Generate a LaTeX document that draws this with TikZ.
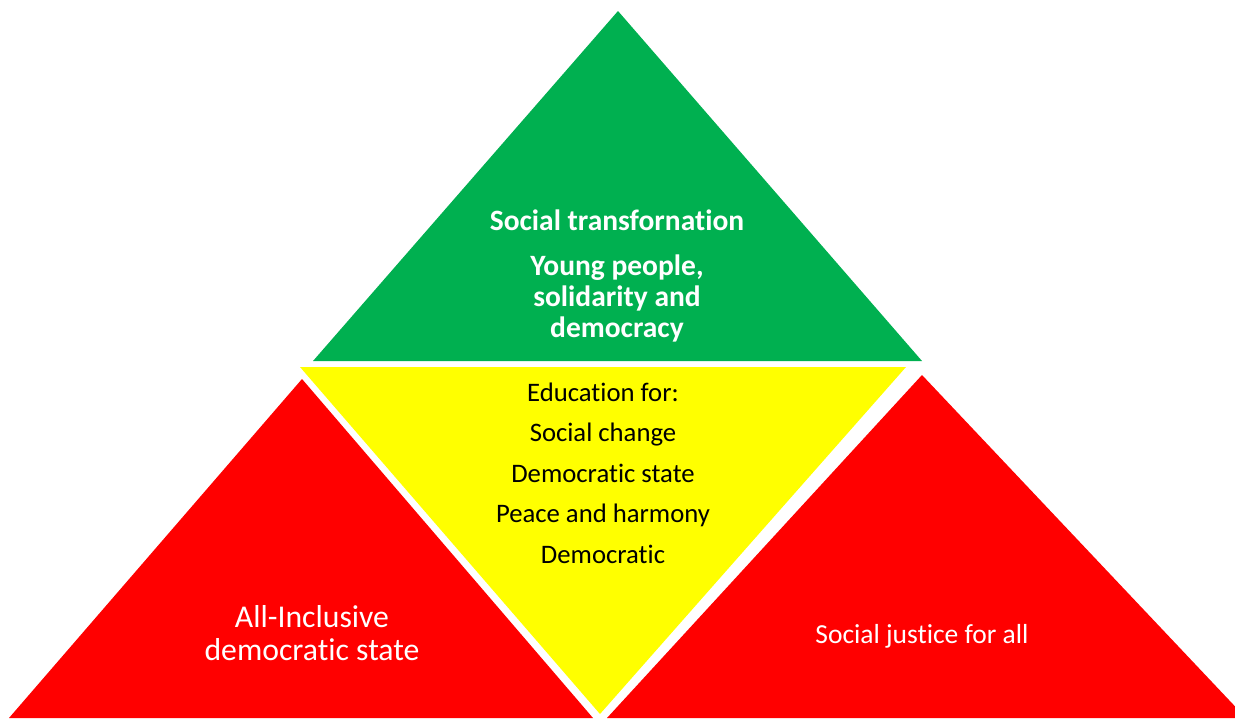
\documentclass[tikz,border=0pt]{standalone}
\usepackage{fontspec}
\setmainfont{Carlito}[Ligatures={NoCommon}]
\definecolor{topgreen}{HTML}{00B050}
\definecolor{midyellow}{HTML}{FFFF00}
\definecolor{sidered}{HTML}{FF0000}
\begin{document}
\begin{tikzpicture}[x=1pt,y=-1pt,
  label/.style={inner sep=0pt,align=center},
  whitebold/.style={label,text=white,font=\fontsize{29.5}{31}\selectfont\bfseries},
  blacktext/.style={label,text=black,font=\fontsize{26.7}{40.5}\selectfont},
  whitetext/.style={label,text=white,font=\fontsize{31.7}{33}\selectfont}]
\useasboundingbox (0,0) rectangle (1235,718);
\clip (0,0) rectangle (1235,718);
% four triangles
\fill[topgreen] (618,11) -- (922,361) -- (313,361) -- cycle;
\fill[midyellow] (300,367) -- (906,367) -- (600,714) -- cycle;
\fill[sidered] (302,379) -- (593,718) -- (9,718) -- cycle;
\fill[sidered] (922,375) -- (1246,718) -- (607,718) -- cycle;
% texts
\node[whitebold] (title) at (617,220) {Social transfornation};
\node[whitebold] (youth) at (617,298) {Young people,\\solidarity and\\democracy};
\node[blacktext] (edu) at (603,473) {Education for:\\Social change\\Democratic state\\Peace and harmony\\Democratic};
\node[whitetext] (inclusive) at (312,633) {All-Inclusive\\democratic state};
\node[label,text=white,font=\fontsize{27.5}{30}\selectfont] (justice) at (922,636) {Social justice for all};
\end{tikzpicture}
\end{document}
